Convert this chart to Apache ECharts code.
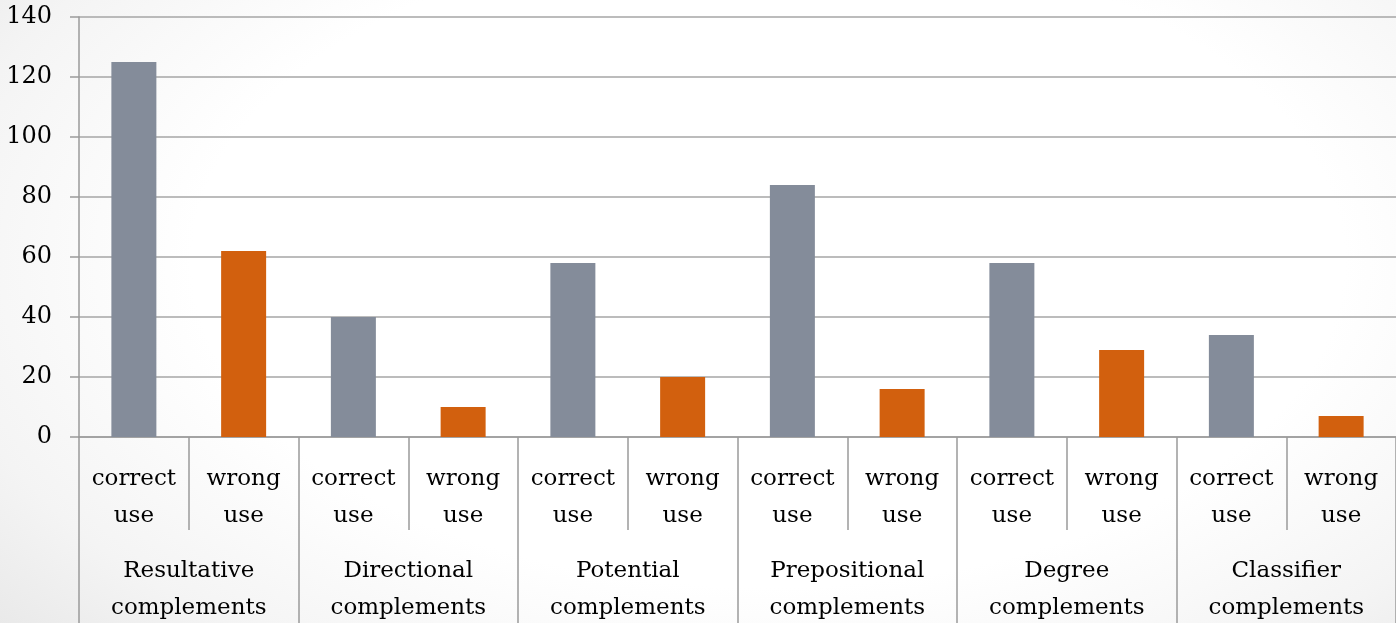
<!DOCTYPE html>
<html>
<head>
<meta charset="utf-8">
<script src="https://cdn.jsdelivr.net/npm/echarts@6/dist/echarts.min.js"></script>
<style>
html,body{margin:0;padding:0;width:1396px;height:623px;overflow:hidden;
background: radial-gradient(ellipse 75% 95% at 55% 42%, #ffffff 55%, #f4f4f4 80%, #e6e6e6 100%);}
#chart{width:1396px;height:623px;}
</style>
</head>
<body>
<div id="chart"></div>
<script>
const groups = ['Resultative\ncomplements','Directional\ncomplements','Potential\ncomplements','Prepositional\ncomplements','Degree\ncomplements','Classifier\ncomplements'];
const subCategories = ['correct\nuse','wrong\nuse','correct\nuse','wrong\nuse','correct\nuse','wrong\nuse','correct\nuse','wrong\nuse','correct\nuse','wrong\nuse','correct\nuse','wrong\nuse'];
const values = [125, 62, 40, 10, 58, 20, 84, 16, 58, 29, 34, 7];
const yTicks = [0, 20, 40, 60, 80, 100, 120, 140];

const grayColor = '#848C9A';
const orangeColor = '#D2600E';
const font = 'DejaVu Serif';

const chart = echarts.init(document.getElementById('chart'));
chart.setOption({
  backgroundColor: 'transparent',
  animation: false,
  grid: {left: 79, right: 0, top: 17, bottom: 186, containLabel: false, outerBoundsMode: 'none'},
  xAxis: [
    {
      type: 'category',
      data: subCategories,
      position: 'bottom',
      axisLine: {show: true, lineStyle: {color: '#9a9a9a', width: 1.5}},
      axisTick: {show: true, interval: 0, length: 93, lineStyle: {color: '#9a9a9a', width: 1.5}},
      axisLabel: {interval: 0, color: '#000', fontFamily: font, fontSize: 23, lineHeight: 37, margin: 24}
    },
    {
      type: 'category',
      data: groups,
      position: 'bottom',
      axisLine: {show: false},
      axisTick: {show: true, interval: 0, length: 186, lineStyle: {color: '#9a9a9a', width: 1.5}},
      axisLabel: {interval: 0, color: '#000', fontFamily: font, fontSize: 23, lineHeight: 37, margin: 116}
    }
  ],
  yAxis: {
    type: 'value',
    min: yTicks[0],
    max: yTicks[yTicks.length - 1],
    interval: 20,
    axisLine: {show: true, lineStyle: {color: '#9a9a9a', width: 1.5}},
    axisTick: {show: true, length: 9, lineStyle: {color: '#9a9a9a', width: 1.5}},
    splitLine: {show: true, lineStyle: {color: '#a6a6a6', width: 1.5}},
    axisLabel: {color: '#000', fontFamily: font, fontSize: 24, margin: 27}
  },
  series: [{
    type: 'bar',
    xAxisIndex: 0,
    barWidth: 45,
    data: values.map((v, i) => ({value: v, itemStyle: {color: i % 2 === 0 ? grayColor : orangeColor}}))
  }]
});
</script>
</body>
</html>
